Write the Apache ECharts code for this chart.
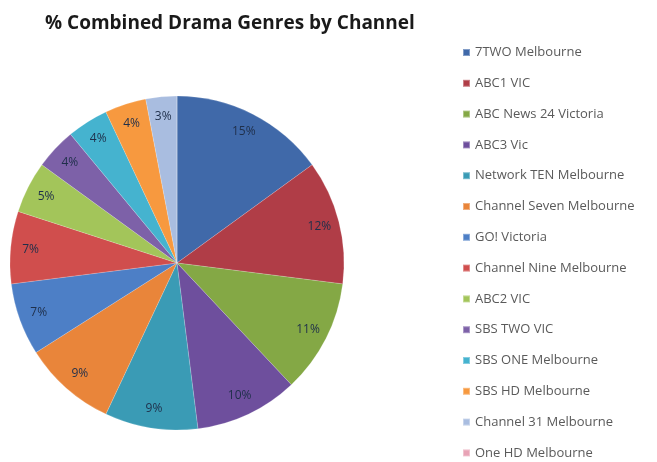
<!DOCTYPE html>
<html><head><meta charset="utf-8">
<script src="https://cdn.jsdelivr.net/npm/echarts@6/dist/echarts.min.js"></script>
<style>html,body{margin:0;padding:0;background:#fff}#c{width:657px;height:462px}</style>
</head><body><div id="c"></div>
<script>
const titleText = "% Combined Drama Genres by Channel";
const channels = ["7TWO Melbourne","ABC1 VIC","ABC News 24 Victoria","ABC3 Vic","Network TEN Melbourne","Channel Seven Melbourne","GO! Victoria","Channel Nine Melbourne","ABC2 VIC","SBS TWO VIC","SBS ONE Melbourne","SBS HD Melbourne","Channel 31 Melbourne","One HD Melbourne"];
const shares = [15,12,11,10,9,9,7,7,5,4,4,4,3,0];
const colors = ["#4069a9","#b03d47","#84a845","#6e4f9d","#3a9bb5","#e9853a","#4d7fc6","#d04e4d","#a3c55a","#7d61a8","#45b3cf","#f7993f","#a9bde0","#e8a3b6"];

const data = channels.map((n,i)=>({name:n,value:shares[i],itemStyle:{color:colors[i]}}));
const chart = echarts.init(document.getElementById('c'),null,{renderer:'canvas'});
chart.setOption({
  animation:false,
  backgroundColor:'#fff',
  title:{text:titleText,left:40,top:9,textStyle:{fontFamily:'Open Sans',fontWeight:'bold',fontSize:19,color:'#1a1a1a'}},
  legend:{orient:'vertical',left:462,top:46,height:416,padding:0,itemWidth:7,itemHeight:7,itemGap:17.8,icon:'rect',
    data:channels,selectedMode:false,
    textStyle:{fontFamily:'Open Sans',fontSize:13,color:'#5a5a5a'}},
  series:[
    {type:'pie',center:[177,263],radius:167,startAngle:90,clockwise:true,avoidLabelOverlap:false,
     data:data,label:{show:false},labelLine:{show:false},
     itemStyle:{borderColor:'rgba(255,255,255,0.35)',borderWidth:0.5}},
    {type:'pie',center:[177,263],radius:[116,172],startAngle:90,clockwise:true,avoidLabelOverlap:false,silent:true,
     minShowLabelAngle:0,
     data:channels.map((n,i)=>({name:n,value:shares[i],itemStyle:{color:'rgba(0,0,0,0)'}})),
     label:{show:true,position:'inside',formatter:p=>p.value+'%',fontFamily:'Open Sans',fontSize:12,color:'#1f2f4a'},
     labelLine:{show:false},emphasis:{disabled:true}}
  ]
});
</script></body></html>
